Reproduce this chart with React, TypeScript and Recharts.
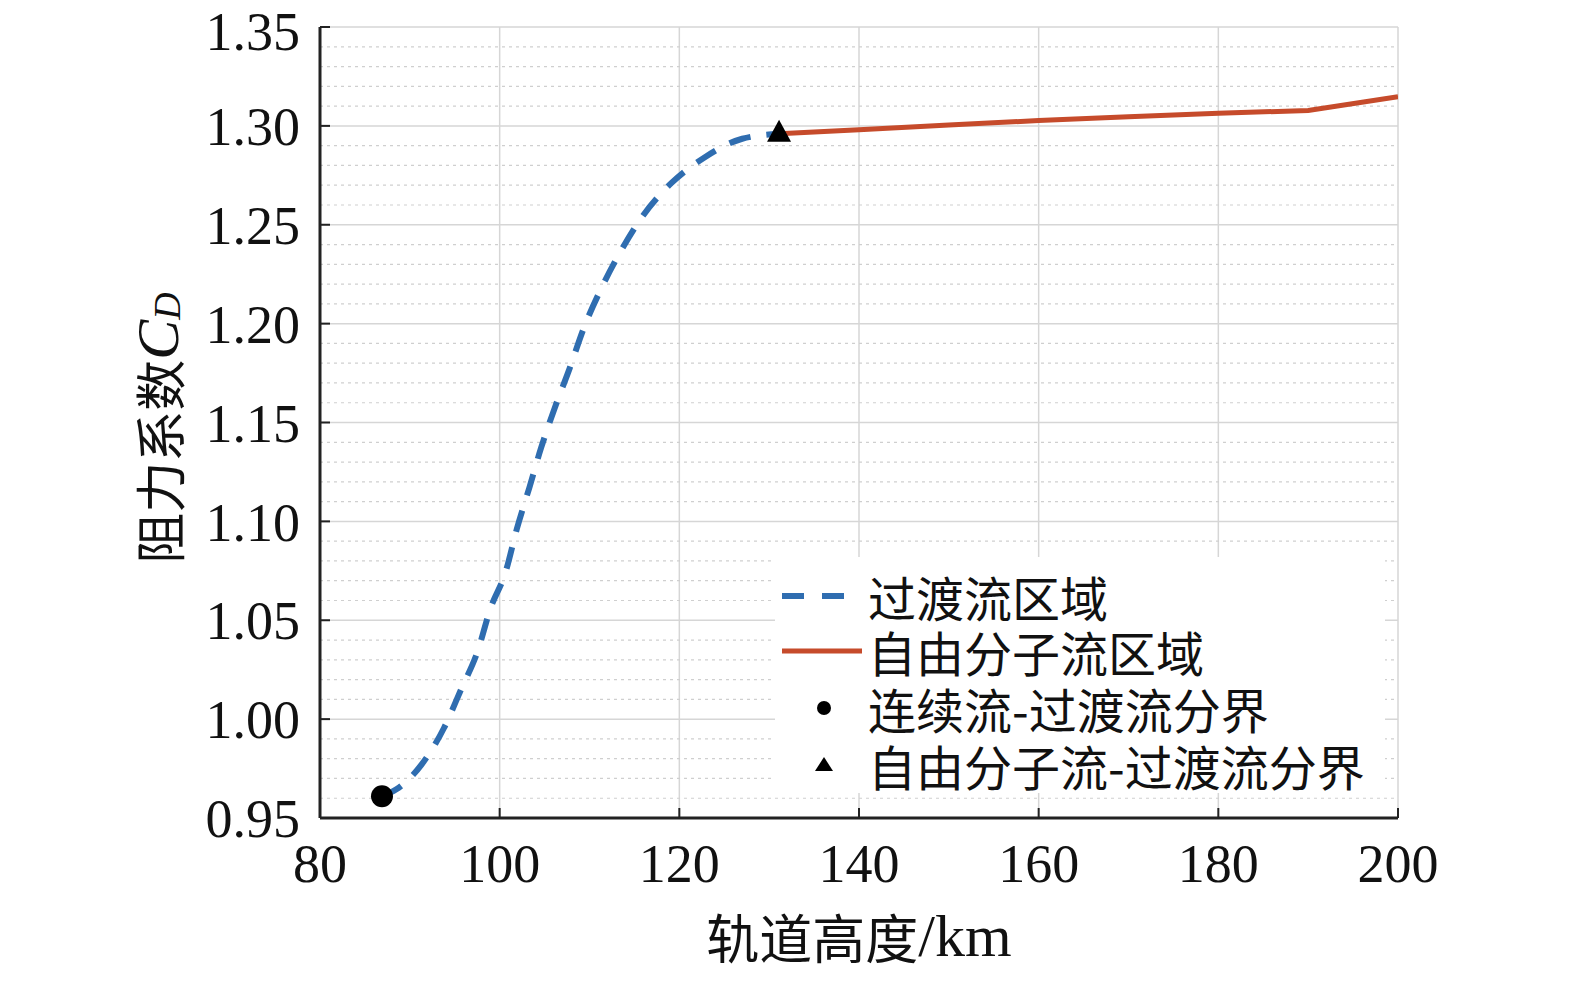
import React from "react";
import {
  ComposedChart,
  Line,
  Scatter,
  XAxis,
  YAxis,
  CartesianGrid,
  ReferenceLine,
} from "recharts";

// transition-flow region (dashed blue)
const transitionAlt = [
  86.9, 88.5, 91.3, 93.8, 95.7, 97.6, 98.9, 100.7, 101.9, 103.3, 104.6, 106.1,
  107.8, 109.3, 111.3, 113.5, 115.9, 119.1, 122.8, 127.0, 131.1,
];
const transitionCd = [
  0.961, 0.9645, 0.977, 0.9955, 1.015, 1.035, 1.055, 1.075, 1.096, 1.117, 1.137,
  1.157, 1.1775, 1.197, 1.2177, 1.2368, 1.2543, 1.271, 1.284, 1.2935, 1.296,
];

// free-molecular region (solid red)
const freeAlt = [131.1, 140, 150, 160, 170, 180, 190, 200];
const freeCd = [1.296, 1.298, 1.3004, 1.3027, 1.3046, 1.3064, 1.3078, 1.3148];

// boundary markers
const contBoundary = [{ x: 86.9, y: 0.961 }];
const freeBoundary = [{ x: 131.1, y: 1.296 }];

const xTicks = [80, 100, 120, 140, 160, 180, 200];
const yTicks = [0.95, 1.0, 1.05, 1.1, 1.15, 1.2, 1.25, 1.3, 1.35];
const yMinor = [
  0.96, 0.97, 0.98, 0.99, 1.01, 1.02, 1.03, 1.04, 1.06, 1.07, 1.08, 1.09, 1.11,
  1.12, 1.13, 1.14, 1.16, 1.17, 1.18, 1.19, 1.21, 1.22, 1.23, 1.24, 1.26, 1.27,
  1.28, 1.29, 1.31, 1.32, 1.33, 1.34,
];

const legendLabels = [
  "过渡流区域",
  "自由分子流区域",
  "连续流-过渡流分界",
  "自由分子流-过渡流分界",
];

const BLUE = "#2f6db0";
const RED = "#c64b2b";
const SERIF = "'Liberation Serif', 'Times New Roman', serif";
const CJK = "'Noto Sans CJK SC', sans-serif";

const transitionData = transitionAlt.map((x, i) => ({ x, y: transitionCd[i] }));
const freeData = freeAlt.map((x, i) => ({ x, y: freeCd[i] }));

const YLabel = (props: any) => {
  const vb = props.viewBox;
  const cx = vb.x - 52;
  const cy = 428;
  return (
    <text
      x={cx}
      y={cy}
      transform={`rotate(-90, ${cx}, ${cy})`}
      textAnchor="middle"
      dominantBaseline="central"
      fill="#111"
    >
      <tspan fontFamily={CJK} fontSize={51}>
        阻力系数
      </tspan>
      <tspan fontFamily={SERIF} fontStyle="italic" fontSize={60}>
        C
      </tspan>
      <tspan fontFamily={SERIF} fontStyle="italic" fontSize={38} dy={9}>
        D
      </tspan>
    </text>
  );
};

const XLabel = (props: any) => {
  const vb = props.viewBox;
  return (
    <text
      x={vb.x + vb.width / 2}
      y={936}
      textAnchor="middle"
      dominantBaseline="central"
      fill="#111"
    >
      <tspan fontFamily={CJK} fontSize={53}>
        轨道高度
      </tspan>
      <tspan fontFamily={SERIF} fontSize={60}>
        /km
      </tspan>
    </text>
  );
};

const axisLine = { stroke: "#222", strokeWidth: 3 };
const tickLine = { stroke: "#222", strokeWidth: 2 };
const tickFont = { fontFamily: SERIF, fontSize: 54, fill: "#111" };

const LegendBox = () => {
  const rows = [39, 94, 151, 208];
  const icons = [
    <svg width={80} height={20} key="a">
      <line x1={7} y1={10} x2={73} y2={10} stroke={BLUE} strokeWidth={6} strokeDasharray="22 18" />
    </svg>,
    <svg width={90} height={20} key="b">
      <line x1={7} y1={10} x2={87} y2={10} stroke={RED} strokeWidth={5} />
    </svg>,
    <svg width={80} height={20} key="c">
      <circle cx={49} cy={10} r={7} fill="#000" />
    </svg>,
    <svg width={80} height={20} key="d">
      <polygon points="49,2 58,16 40,16" fill="#000" />
    </svg>,
  ];
  return (
    <div
      style={{
        position: "absolute",
        left: 775,
        top: 557,
        width: 610,
        height: 236,
        background: "#fff",
      }}
    >
      {legendLabels.map((label, i) => (
        <div
          key={label}
          style={{
            position: "absolute",
            left: 0,
            top: rows[i] - 25,
            height: 50,
            display: "flex",
            alignItems: "center",
          }}
        >
          <div style={{ width: 93, height: 20, overflow: "visible", display: "flex" }}>
            {icons[i]}
          </div>
          <span
            style={{
              display: "block",
              fontFamily: CJK,
              fontSize: 48,
              height: 50,
              lineHeight: "50px",
              color: "#111",
              whiteSpace: "nowrap",
            }}
          >
            {label}
          </span>
        </div>
      ))}
    </div>
  );
};

const App = () => {
  return (
    <div
      style={{
        position: "absolute",
        left: 0,
        top: 0,
        width: 1575,
        height: 987,
        background: "#fff",
      }}
    >
      <ComposedChart
        width={1575}
        height={987}
        margin={{ top: 27, right: 177, bottom: 109, left: 210 }}
      >
        <CartesianGrid stroke="#d6d6d6" strokeWidth={1.5} />
        {yMinor.map((v) => (
          <ReferenceLine
            key={v}
            y={v}
            stroke="#cfcfcf"
            strokeWidth={1.2}
            strokeDasharray="3 4"
          />
        ))}
        <XAxis
          dataKey="x"
          type="number"
          domain={[80, 200]}
          ticks={xTicks}
          allowDataOverflow
          height={60}
          axisLine={axisLine}
          tickLine={tickLine}
          tickSize={-10}
          tickMargin={36}
          tick={tickFont}
          label={{ content: XLabel }}
        />
        <XAxis
          xAxisId="top"
          orientation="top"
          type="number"
          domain={[80, 200]}
          ticks={xTicks}
          height={0}
          axisLine={axisLine}
          tickLine={tickLine}
          tickSize={-10}
          tick={false}
        />
        <YAxis
          dataKey="y"
          type="number"
          domain={[0.95, 1.35]}
          ticks={yTicks}
          allowDataOverflow
          width={110}
          axisLine={axisLine}
          tickLine={tickLine}
          tickSize={-10}
          tickMargin={30}
          tick={tickFont}
          tickFormatter={(v: number) => v.toFixed(2)}
          label={{ content: YLabel }}
        />
        <YAxis
          yAxisId="right"
          orientation="right"
          type="number"
          domain={[0.95, 1.35]}
          ticks={yTicks}
          width={0}
          axisLine={axisLine}
          tickLine={tickLine}
          tickSize={-10}
          tick={false}
        />
        <Line
          data={transitionData}
          dataKey="y"
          type="monotone"
          stroke={BLUE}
          strokeWidth={6}
          strokeDasharray="22 16"
          dot={false}
          activeDot={false}
          isAnimationActive={false}
        />
        <Line
          data={freeData}
          dataKey="y"
          type="linear"
          stroke={RED}
          strokeWidth={5}
          dot={false}
          activeDot={false}
          isAnimationActive={false}
        />
        <Scatter
          data={contBoundary}
          dataKey="y"
          isAnimationActive={false}
          shape={(p: any) => <circle cx={p.cx} cy={p.cy} r={11} fill="#000" />}
        />
        <Scatter
          data={freeBoundary}
          dataKey="y"
          isAnimationActive={false}
          shape={(p: any) => (
            <polygon
              points={`${p.cx},${p.cy - 14} ${p.cx + 12},${p.cy + 8} ${p.cx - 12},${p.cy + 8}`}
              fill="#000"
            />
          )}
        />
      </ComposedChart>
      <LegendBox />
    </div>
  );
};

export default App;
